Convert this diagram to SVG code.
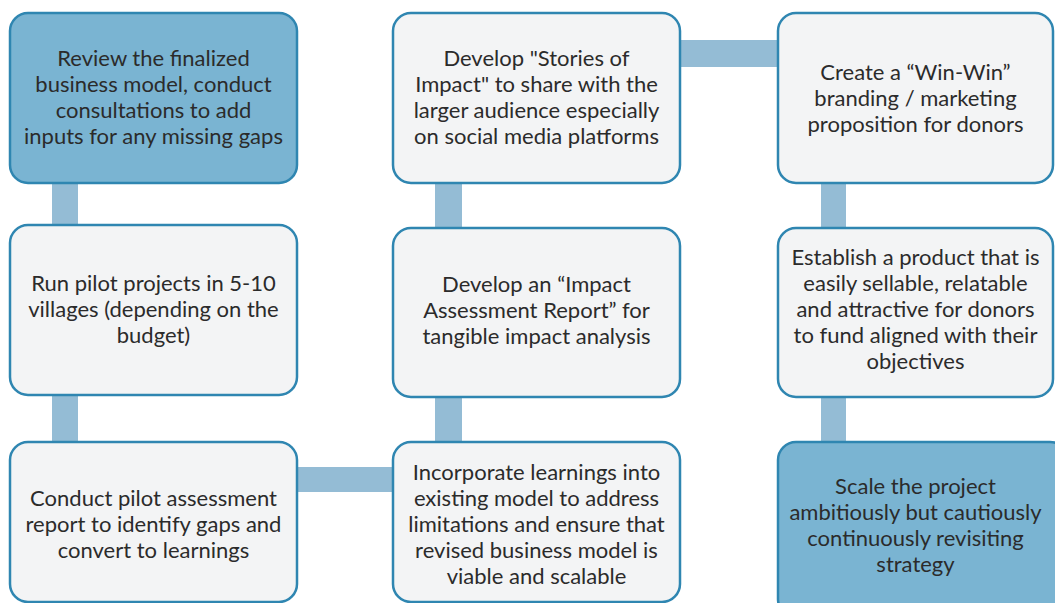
<svg xmlns="http://www.w3.org/2000/svg" width="1055" height="603" viewBox="0 0 1055 603">
<style>
.box{fill:#f3f4f5;stroke:#2f86b1;stroke-width:2.5}
.dark{fill:#7ab4d2}
.conn{fill:#94bcd5}
text{font-family:Lato,"Liberation Sans",sans-serif;font-size:22px;fill:#2b2b2b;text-anchor:middle}
</style>
<rect width="1055" height="603" fill="#ffffff"/>
<g id="connectors">
<rect class="conn" x="52" y="180" width="26" height="48"/>
<rect class="conn" x="52" y="392" width="26" height="53"/>
<rect class="conn" x="435" y="180" width="27" height="51"/>
<rect class="conn" x="435" y="394" width="27" height="51"/>
<rect class="conn" x="821" y="180" width="25" height="51"/>
<rect class="conn" x="821" y="394" width="25" height="51"/>
<rect class="conn" x="677" y="40" width="104" height="27"/>
<rect class="conn" x="294" y="467" width="102" height="25"/>
</g>
<g id="n1">
<rect class="box dark" x="10" y="13" width="287" height="170" rx="18"/>
<text x="153.5" y="66">Review the finalized</text>
<text x="153.5" y="92">business model, conduct</text>
<text x="153.5" y="118">consultations to add</text>
<text x="153.5" y="144">inputs for any missing gaps</text>
</g>
<g id="n2">
<rect class="box" x="10" y="225" width="287" height="170" rx="18"/>
<text x="153.5" y="291">Run pilot projects in 5-10</text>
<text x="153.5" y="317">villages (depending on the</text>
<text x="153.5" y="343">budget)</text>
</g>
<g id="n3">
<rect class="box" x="10" y="442" width="287" height="160" rx="18"/>
<text x="153.5" y="506">Conduct pilot assessment</text>
<text x="153.5" y="532">report to identify gaps and</text>
<text x="153.5" y="558">convert to learnings</text>
</g>
<g id="n4">
<rect class="box" x="393" y="442" width="287" height="160" rx="18"/>
<text x="536.5" y="480">Incorporate learnings into</text>
<text x="536.5" y="506">existing model to address</text>
<text x="536.5" y="532">limitations and ensure that</text>
<text x="536.5" y="558">revised business model is</text>
<text x="536.5" y="584">viable and scalable</text>
</g>
<g id="n5">
<rect class="box" x="393" y="228" width="287" height="169" rx="18"/>
<text x="536.5" y="292">Develop an “Impact</text>
<text x="536.5" y="318">Assessment Report” for</text>
<text x="536.5" y="344">tangible impact analysis</text>
</g>
<g id="n6">
<rect class="box" x="393" y="13" width="287" height="170" rx="18"/>
<text x="536.5" y="66">Develop "Stories of</text>
<text x="536.5" y="92">Impact" to share with the</text>
<text x="536.5" y="118">larger audience especially</text>
<text x="536.5" y="144">on social media platforms</text>
</g>
<g id="n7">
<rect class="box" x="778" y="13" width="275" height="170" rx="18"/>
<text x="915.5" y="80">Create a “Win-Win”</text>
<text x="915.5" y="106">branding / marketing</text>
<text x="915.5" y="132">proposition for donors</text>
</g>
<g id="n8">
<rect class="box" x="778" y="228" width="275" height="169" rx="18"/>
<text x="915.5" y="265">Establish a product that is</text>
<text x="915.5" y="291">easily sellable, relatable</text>
<text x="915.5" y="317">and attractive for donors</text>
<text x="915.5" y="343">to fund aligned with their</text>
<text x="915.5" y="369">objectives</text>
</g>
<g id="n9">
<rect class="box dark" x="778" y="442" width="290" height="175" rx="18"/>
<text x="915.5" y="494">Scale the project</text>
<text x="915.5" y="520">ambitiously but cautiously</text>
<text x="915.5" y="546">continuously revisiting</text>
<text x="915.5" y="572">strategy</text>
</g>
</svg>
